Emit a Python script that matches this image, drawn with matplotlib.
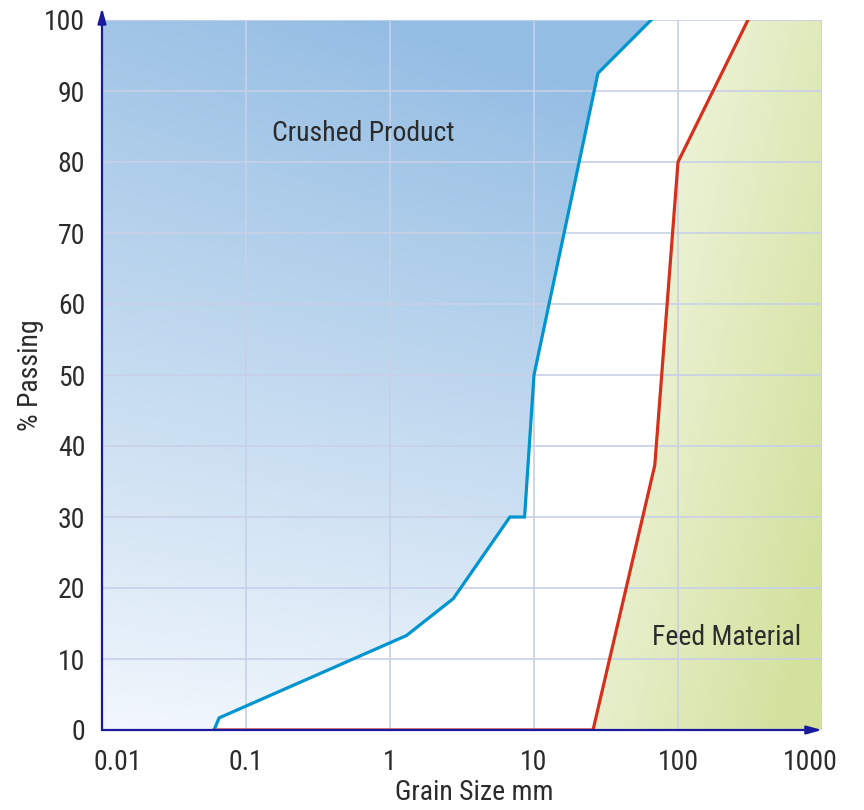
import numpy as np
import matplotlib
matplotlib.use("Agg")
import matplotlib.pyplot as plt
import matplotlib.transforms as mtransforms
from matplotlib.patches import Polygon
from matplotlib import font_manager

# ---- data ----
product_size = [0.06, 0.065, 1.3, 2.75, 6.8, 8.6, 10.0, 27.8, 65.0]
product_pass = [0.0, 1.7, 13.3, 18.5, 30.0, 30.0, 50.0, 92.5, 100.0]
feed_size = [0.06, 25.7, 69.0, 100.0, 306.0]
feed_pass = [0.0, 0.0, 37.3, 80.0, 100.0]
x_ticks = [0.01, 0.1, 1, 10, 100, 1000]
x_ticklabels = ["0.01", "0.1", "1", "10", "100", "1000"]
y_ticks = list(range(0, 101, 10))

names = {f.name for f in font_manager.fontManager.ttflist}
fam = [f for f in ["Liberation Sans Narrow", "Roboto Condensed", "DejaVu Sans"] if f in names]
plt.rcParams['font.family'] = fam
txtc = "#2b2b2b"

fig = plt.figure(figsize=(8.64, 8.10), dpi=100)
ax = fig.add_axes([102/864, 1-730/810, 720/864, 710/810])
ax.set_xscale("log")
ax.set_xlim(0.01, 1000)
ax.set_ylim(0, 100)

# ---- gradient fills ----
ny, nx = 300, 300
ya, xa = np.mgrid[0:1:ny*1j, 0:1:nx*1j]
top = np.array([148, 189, 227]) / 255
bot = np.array([243, 248, 253]) / 255
t = np.clip(0.85 * ya + 0.25 * xa * ya + 0.1 * xa, 0, 1) ** 0.9
blue_img = bot[None, None, :] * (1 - t[..., None]) + top[None, None, :] * t[..., None]
im1 = ax.imshow(blue_img, extent=[0, 1, 0, 1], transform=ax.transAxes, origin="lower",
                aspect="auto", zorder=1, interpolation="bilinear")
bx = [0.01] + product_size + [0.01]
by = [0.0] + product_pass + [100.0]
poly1 = Polygon(np.column_stack([bx, by]), closed=True, transform=ax.transData,
                facecolor="none", edgecolor="none")
ax.add_patch(poly1)
im1.set_clip_path(poly1)

light = np.array([248, 251, 242]) / 255
dark = np.array([211, 225, 157]) / 255
s = np.clip(0.65 * (xa - 0.68) / 0.32 + 0.45 * (1 - ya), 0, 1)
green_img = light[None, None, :] * (1 - s[..., None]) + dark[None, None, :] * s[..., None]
im2 = ax.imshow(green_img, extent=[0, 1, 0, 1], transform=ax.transAxes, origin="lower",
                aspect="auto", zorder=1, interpolation="bilinear")
gx = feed_size + [1000, 1000]
gy = feed_pass + [100, 0]
poly2 = Polygon(np.column_stack([gx, gy]), closed=True, transform=ax.transData,
                facecolor="none", edgecolor="none")
ax.add_patch(poly2)
im2.set_clip_path(poly2)

# ---- grid / ticks ----
ax.set_xticks(x_ticks)
ax.set_xticklabels(x_ticklabels)
ax.set_yticks(y_ticks)
ax.xaxis.set_minor_locator(matplotlib.ticker.NullLocator())
ax.grid(True, color="#c8d0e8", linewidth=1.2, zorder=2)
ax.set_axisbelow(False)
for sp in ax.spines.values():
    sp.set_visible(False)
ax.tick_params(length=0, labelsize=20, colors=txtc, pad=12)
ax.tick_params(axis="x", pad=14)
xl = ax.get_xticklabels()
xl[0].set_transform(xl[0].get_transform() + mtransforms.ScaledTranslation(16/100, 0, fig.dpi_scale_trans))
xl[-1].set_transform(xl[-1].get_transform() + mtransforms.ScaledTranslation(-12/100, 0, fig.dpi_scale_trans))

# ---- curves ----
ax.plot(feed_size, feed_pass, color="#d4301c", linewidth=2.3, zorder=4, solid_joinstyle="miter")
ax.plot(product_size, product_pass, color="#0095d0", linewidth=2.3, zorder=5, solid_joinstyle="miter")

# ---- axes arrows ----
axc = "#1a1a9e"
ax.annotate("", xy=(0, 1.017), xytext=(0, 0), xycoords="axes fraction",
            arrowprops=dict(arrowstyle="-|>,head_length=0.9,head_width=0.25", color=axc, lw=1.6,
                            shrinkA=0, shrinkB=0), zorder=6, annotation_clip=False)
ax.annotate("", xy=(1.0, 0), xytext=(0, 0), xycoords="axes fraction",
            arrowprops=dict(arrowstyle="-|>,head_length=0.9,head_width=0.25", color=axc, lw=1.6,
                            shrinkA=0, shrinkB=0), zorder=6, annotation_clip=False)

# ---- text ----
ax.text(0.65, 84.0, "Crushed Product", fontsize=20, color=txtc, ha="center", va="center", zorder=7)
ax.text(218, 13.0, "Feed Material", fontsize=20, color=txtc, ha="center", va="center", zorder=7)
fig.text(474/864, 1-793/810, "Grain Size mm", fontsize=20, color=txtc, ha="center", va="center")
fig.text(30/864, 1-375/810, "% Passing", fontsize=20, color=txtc, ha="center", va="center", rotation=90)

fig.savefig("out.png", dpi=100)
